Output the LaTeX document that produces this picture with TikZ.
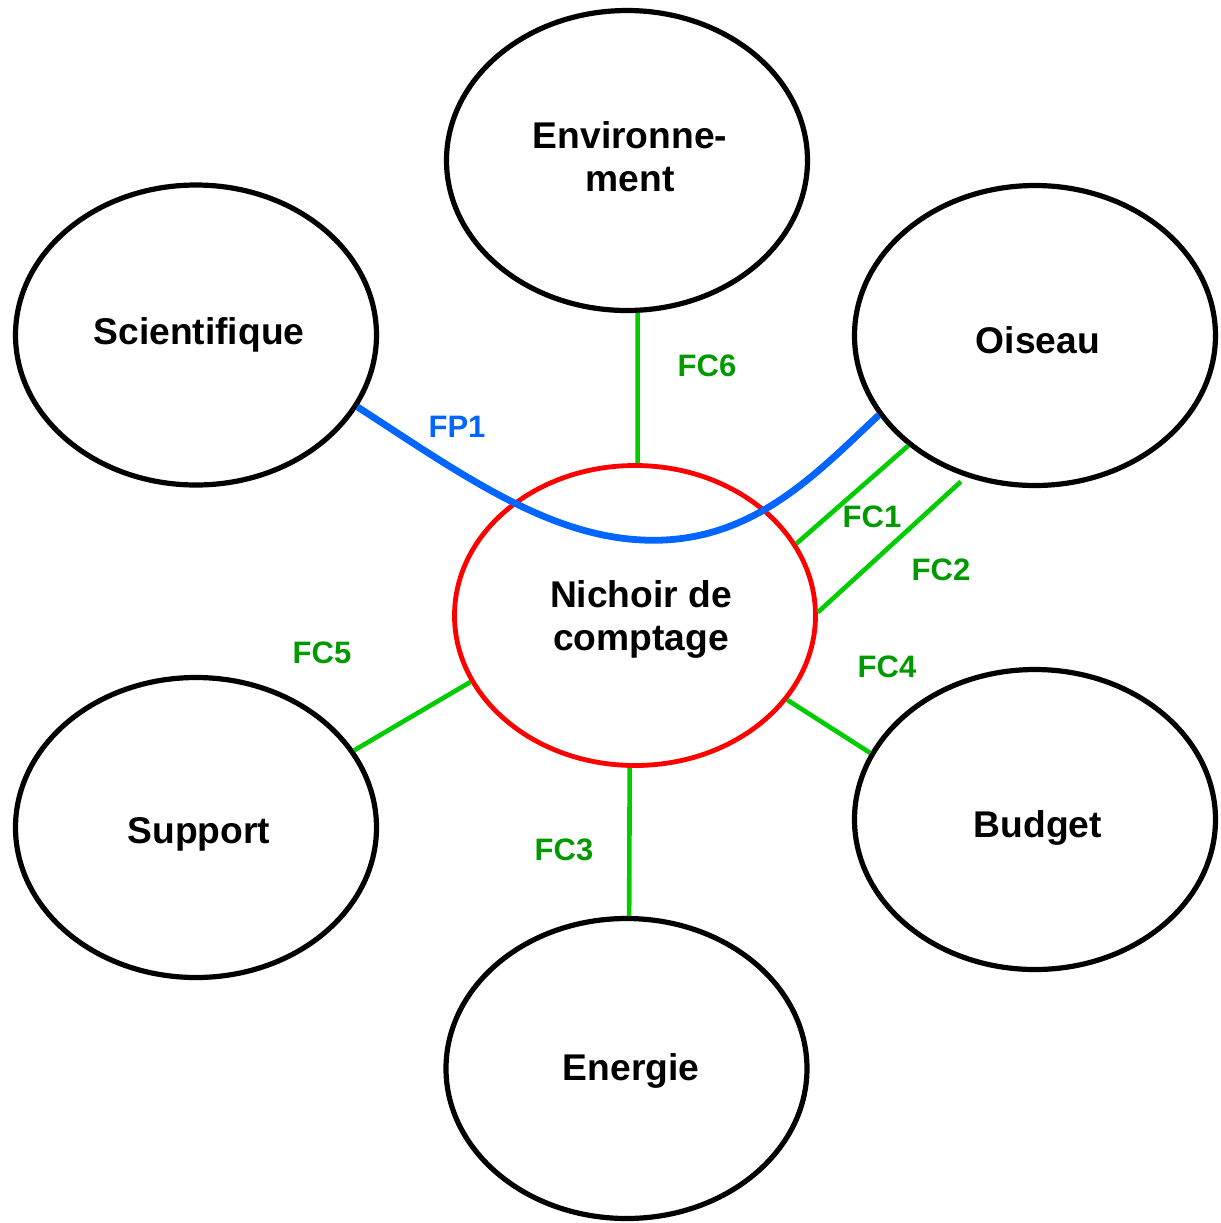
\documentclass[tikz,border=0pt]{standalone}
\usepackage{fontspec}
\setmainfont{Liberation Sans}
\usepackage{tikz}
\usetikzlibrary{shapes.geometric}
\definecolor{fcgreen}{RGB}{0,204,0}
\definecolor{fctext}{RGB}{0,153,0}
\definecolor{fpblue}{RGB}{0,102,255}
\newcommand{\drawfc}{\draw[fcgreen, line width=2.3pt]}
\tikzset{
    elt/.style={ellipse, draw, line width=2.6pt, inner sep=0pt,
        minimum width=180.5pt, minimum height=150pt},
    elttext/.style={align=center, inner sep=0pt,
        font=\fontsize{18.6}{21.5}\selectfont\bfseries},
    fclabel/.style={text=fctext, font=\fontsize{15.5}{18}\selectfont\bfseries}
}

\begin{document}
\begin{tikzpicture}[x=0.5pt, y=-0.5pt]
    \useasboundingbox (0,0) rectangle (1221,1223);

    % Draw elements
    \node[elt] (env) at (627,160.5) {};
    \node[elt] (sci) at (196,335) {};
    \node[elt] (ois) at (1035,335.5) {};
    \node[elt, draw=red, line width=2.4pt] (nich) at (635,615.5) {};
    \node[elt] (sup) at (196,827.5) {};
    \node[elt] (bud) at (1035,819.5) {};
    \node[elt] (ener) at (626.5,1068.5) {};

    \node[elttext] (env-t) at (630,157) {Environne-\\ment};
    \node[elttext] (sci-t) at (199,335) {Scientifique};
    \node[elttext] (ois-t) at (1038,340.5) {Oiseau};
    \node[elttext] (nich-t) at (641,619.5) {Nichoir de\\comptage};
    \node[elttext] (sup-t) at (199,834.5) {Support};
    \node[elttext] (bud-t) at (1038,827.5) {Budget};
    \node[elttext] (ener-t) at (631,1070.5) {Energie};

    % Draw main function
    \coordinate (low) at (665,540);
    \draw[fpblue, line width=3.4pt] (sci.-24) .. controls (470,480) and (560,545) .. (low)
        .. controls (760,535) and (820,470) .. (ois.207);

    % Draw constraints
    \drawfc (env.-86) -- (nich.89);
    \drawfc (ois.221) -- (nich.24);
    \drawfc[shorten <=3.5pt] (ois.244) -- (nich.1);
    \drawfc (nich.-92) -- (ener.89);
    \drawfc (nich.-29) -- (bud.158);
    \drawfc (nich.202) -- (sup.26);

    \node[fclabel, text=fpblue] (fp1) at (457,427) {FP1};
    \node[fclabel] (fc1) at (872,517) {FC1};
    \node[fclabel] (fc2) at (941,570) {FC2};
    \node[fclabel] (fc3) at (564,850) {FC3};
    \node[fclabel] (fc4) at (887,667) {FC4};
    \node[fclabel] (fc5) at (322,653) {FC5};
    \node[fclabel] (fc6) at (707,366) {FC6};
\end{tikzpicture}
\end{document}
